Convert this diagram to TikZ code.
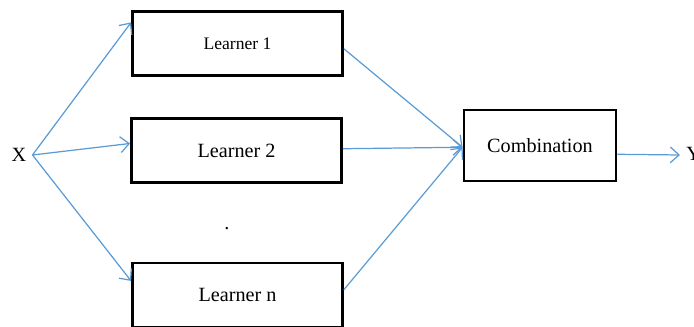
\documentclass[tikz,border=0pt]{standalone}
\usepackage{fontspec}
\setmainfont{Liberation Serif}
\usepackage{tikz}
\usetikzlibrary{arrows.meta, positioning}
\definecolor{lineblue}{RGB}{91,155,213}

\tikzset{
  learnerbox/.style={draw=black, line width=1.6pt, minimum width=4.2cm, minimum height=1.28cm, inner sep=0pt},
  flow/.style={draw=lineblue, line width=0.7pt, -{Straight Barb[length=5pt, width=9pt]}},
}

\begin{document}
\begin{tikzpicture}[x=0.02cm, y=-0.02cm, every node/.style={font=\fontsize{11.5}{13}\selectfont}]
\useasboundingbox (0,0) rectangle (694,327);
\node (X) at (19,155) {X};
\node[learnerbox] (L1) at (237.5,43.5) {\fontsize{10}{12}\selectfont Learner 1};
\node[learnerbox] (L2) at (236.5,150.5) {Learner 2};
\node[learnerbox] (Ln) at (237.5,295) {Learner n};
\node[inner sep=0pt] (dots) at (227,229) {.};
\node[learnerbox, minimum width=3.04cm, minimum height=1.42cm] (comb) at (540,145.5) {Combination};
\node[anchor=west, inner sep=0pt] (Y) at (686,154) {Y};
\coordinate (out) at (680,155);

% input side
\draw[flow] (X.east) -- ([yshift=12pt]L1.west);
\draw[flow] (X.east) -- ([yshift=4pt]L2.west);
\draw[flow] (X.east) -- ([yshift=8pt]Ln.west);
% into the combiner
\draw[flow] ([yshift=-3pt]L1.east) -- ([yshift=-1pt]comb.west);
\draw[flow] ([yshift=1pt]L2.east) -- ([yshift=-1pt]comb.west);
\draw[flow] ([yshift=3pt]Ln.east) -- ([yshift=-1pt]comb.west);
\draw[flow] ([yshift=-5pt]comb.east) -- (out);
\end{tikzpicture}
\end{document}
